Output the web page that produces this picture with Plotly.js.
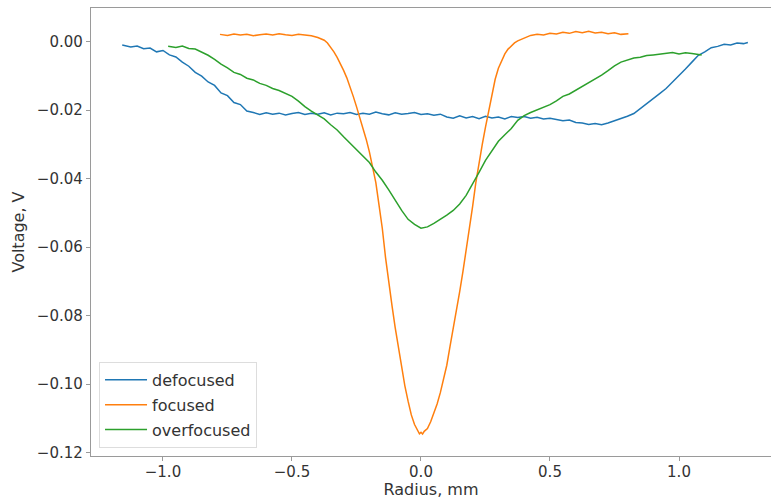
<!DOCTYPE html>
<html>
<head>
<meta charset="utf-8">
<script src="https://cdn.plot.ly/plotly-3.0.1.min.js"></script>
<style>html,body{margin:0;padding:0;background:#fff;}#chart{width:771px;height:499px;}</style>
</head>
<body>
<div id="chart"></div>
<script>
// ---- data ----
const seriesNames = ["defocused", "focused", "overfocused"];

const defocusedX = [-1.158,-1.125,-1.100,-1.075,-1.050,-1.025,-1.000,-0.975,-0.950,-0.925,-0.900,-0.875,-0.850,-0.825,-0.800,-0.775,-0.750,-0.725,-0.700,-0.675,-0.650,-0.625,-0.600,-0.575,-0.550,-0.525,-0.500,-0.475,-0.450,-0.425,-0.400,-0.375,-0.350,-0.325,-0.300,-0.275,-0.250,-0.225,-0.200,-0.175,-0.150,-0.125,-0.100,-0.075,-0.050,-0.025,0.000,0.025,0.050,0.075,0.100,0.125,0.150,0.175,0.200,0.225,0.250,0.275,0.300,0.325,0.350,0.375,0.400,0.425,0.450,0.475,0.500,0.525,0.550,0.575,0.600,0.625,0.650,0.675,0.700,0.725,0.750,0.775,0.800,0.825,0.850,0.875,0.900,0.925,0.950,0.975,1.000,1.025,1.050,1.075,1.100,1.125,1.150,1.175,1.200,1.225,1.250,1.267];
const defocusedY = [-0.0010,-0.0016,-0.0013,-0.0021,-0.0019,-0.0030,-0.0026,-0.0039,-0.0045,-0.0060,-0.0072,-0.0090,-0.0101,-0.0118,-0.0128,-0.0150,-0.0158,-0.0178,-0.0184,-0.0203,-0.0207,-0.0213,-0.0208,-0.0212,-0.0209,-0.0214,-0.0210,-0.0207,-0.0213,-0.0209,-0.0212,-0.0208,-0.0214,-0.0209,-0.0211,-0.0207,-0.0213,-0.0209,-0.0212,-0.0206,-0.0211,-0.0214,-0.0208,-0.0212,-0.0210,-0.0207,-0.0213,-0.0211,-0.0215,-0.0212,-0.0220,-0.0224,-0.0217,-0.0223,-0.0219,-0.0225,-0.0218,-0.0223,-0.0220,-0.0226,-0.0219,-0.0222,-0.0219,-0.0224,-0.0221,-0.0226,-0.0224,-0.0228,-0.0231,-0.0229,-0.0236,-0.0238,-0.0242,-0.0239,-0.0243,-0.0238,-0.0232,-0.0225,-0.0218,-0.0210,-0.0196,-0.0181,-0.0168,-0.0152,-0.0137,-0.0119,-0.0100,-0.0080,-0.0060,-0.0040,-0.0030,-0.0018,-0.0014,-0.0008,-0.0010,-0.0004,-0.0006,-0.0003];

const focusedX = [-0.779,-0.750,-0.725,-0.700,-0.675,-0.650,-0.625,-0.600,-0.575,-0.550,-0.525,-0.500,-0.475,-0.450,-0.425,-0.400,-0.3875,-0.375,-0.3625,-0.350,-0.3375,-0.325,-0.3125,-0.300,-0.2875,-0.275,-0.2625,-0.250,-0.2375,-0.225,-0.2125,-0.200,-0.1875,-0.175,-0.1625,-0.150,-0.1375,-0.125,-0.1125,-0.100,-0.0875,-0.075,-0.0625,-0.050,-0.0375,-0.025,-0.0125,-0.006,0.000,0.006,0.0125,0.025,0.0375,0.050,0.0625,0.075,0.0875,0.100,0.1125,0.125,0.1375,0.150,0.1625,0.175,0.1875,0.200,0.2125,0.225,0.2375,0.250,0.2625,0.275,0.2875,0.300,0.3125,0.325,0.3375,0.350,0.3625,0.375,0.3875,0.400,0.425,0.450,0.475,0.500,0.525,0.550,0.575,0.600,0.625,0.650,0.675,0.700,0.725,0.750,0.775,0.804];
const focusedY = [0.0021,0.0018,0.0022,0.0019,0.0021,0.0017,0.0020,0.0022,0.0019,0.0023,0.0020,0.0018,0.0021,0.0019,0.0017,0.0012,0.0008,0.0004,-0.0004,-0.0016,-0.0030,-0.0046,-0.0063,-0.0084,-0.0106,-0.0131,-0.0160,-0.0190,-0.0220,-0.0253,-0.0285,-0.0322,-0.0365,-0.0412,-0.0478,-0.0545,-0.0630,-0.0705,-0.0770,-0.0835,-0.0895,-0.0945,-0.1005,-0.1050,-0.1090,-0.1118,-0.1135,-0.1145,-0.1141,-0.1146,-0.1138,-0.1130,-0.1110,-0.1085,-0.1058,-0.1025,-0.0985,-0.0945,-0.0890,-0.0840,-0.0785,-0.0730,-0.0672,-0.0612,-0.0550,-0.0482,-0.0412,-0.0350,-0.0300,-0.0250,-0.0200,-0.0152,-0.0110,-0.0078,-0.0055,-0.0036,-0.0022,-0.0012,-0.0004,0.0002,0.0006,0.0010,0.0018,0.0021,0.0019,0.0024,0.0022,0.0027,0.0024,0.0029,0.0026,0.0030,0.0025,0.0027,0.0023,0.0026,0.0021,0.0023];

const overfocusedX = [-0.980,-0.950,-0.925,-0.900,-0.875,-0.850,-0.825,-0.800,-0.775,-0.750,-0.725,-0.700,-0.675,-0.650,-0.625,-0.600,-0.575,-0.550,-0.525,-0.500,-0.475,-0.450,-0.425,-0.400,-0.375,-0.350,-0.325,-0.300,-0.275,-0.250,-0.225,-0.200,-0.175,-0.150,-0.125,-0.100,-0.075,-0.050,-0.025,0.000,0.025,0.050,0.075,0.100,0.125,0.150,0.175,0.200,0.225,0.250,0.275,0.300,0.325,0.350,0.375,0.400,0.425,0.450,0.475,0.500,0.525,0.550,0.575,0.600,0.625,0.650,0.675,0.700,0.725,0.750,0.775,0.800,0.825,0.850,0.875,0.900,0.925,0.950,0.975,1.000,1.025,1.050,1.075,1.088];
const overfocusedY = [-0.0014,-0.0017,-0.0013,-0.0020,-0.0022,-0.0030,-0.0040,-0.0052,-0.0066,-0.0077,-0.0090,-0.0096,-0.0107,-0.0112,-0.0122,-0.0128,-0.0137,-0.0143,-0.0152,-0.0160,-0.0174,-0.0190,-0.0203,-0.0215,-0.0226,-0.0243,-0.0258,-0.0278,-0.0296,-0.0314,-0.0334,-0.0353,-0.0381,-0.0405,-0.0433,-0.0464,-0.0493,-0.0519,-0.0534,-0.0545,-0.0541,-0.0531,-0.0520,-0.0507,-0.0493,-0.0474,-0.0449,-0.0417,-0.0382,-0.0347,-0.0318,-0.0291,-0.0272,-0.0254,-0.0230,-0.0216,-0.0207,-0.0199,-0.0192,-0.0184,-0.0173,-0.0160,-0.0153,-0.0142,-0.0131,-0.0119,-0.0110,-0.0098,-0.0085,-0.0071,-0.0060,-0.0053,-0.0048,-0.0046,-0.0041,-0.0039,-0.0036,-0.0035,-0.0032,-0.0036,-0.0033,-0.0035,-0.0037,-0.0039];

const xTickVals = [-1.0, -0.5, 0.0, 0.5, 1.0];
const xTickText = ["\u22121.0", "\u22120.5", "0.0", "0.5", "1.0"];
const yTickVals = [0.00, -0.02, -0.04, -0.06, -0.08, -0.10, -0.12];
const yTickText = ["0.00", "\u22120.02", "\u22120.04", "\u22120.06", "\u22120.08", "\u22120.10", "\u22120.12"];

const xTitle = "Radius, mm";
const yTitle = "Voltage, V";

// ---- styling ----
const colors = ["#1f77b4", "#ff7f0e", "#2ca02c"];
const axisColor = "#9a9a9a";
const textColor = "#333333";
const fontFamily = "DejaVu Sans, sans-serif";

const xs = [defocusedX, focusedX, overfocusedX];
const ys = [defocusedY, focusedY, overfocusedY];

const traces = seriesNames.map((name, i) => ({
  type: "scatter",
  mode: "lines",
  name: name,
  x: xs[i],
  y: ys[i],
  line: {color: colors[i], width: 1.5},
  legendgroup: "g" + i
}));

const layout = {
  width: 771,
  height: 499,
  margin: {l: 91, r: 0, t: 8, b: 43},
  paper_bgcolor: "#ffffff",
  plot_bgcolor: "#ffffff",
  font: {family: fontFamily, size: 15, color: textColor},
  showlegend: true,
  legend: {
    x: 0.0118, y: 0.018, xanchor: "left", yanchor: "bottom",
    bgcolor: "rgba(255,255,255,0.8)",
    bordercolor: "#dddddd", borderwidth: 1,
    font: {family: fontFamily, size: 16, color: textColor},
    tracegroupgap: 1,
    itemwidth: 42,
    traceorder: "grouped"
  },
  xaxis: {
    range: [-1.279, 1.3566],
    tickmode: "array", tickvals: xTickVals, ticktext: xTickText,
    showgrid: false, zeroline: false,
    showline: true, linecolor: axisColor, linewidth: 1.2, mirror: true,
    ticks: "outside", ticklen: 4, tickwidth: 1, tickcolor: axisColor,
    ticklabelstandoff: -2,
    tickfont: {family: fontFamily, size: 15, color: textColor},
    title: {text: xTitle, font: {family: fontFamily, size: 16, color: textColor}, standoff: 5}
  },
  yaxis: {
    range: [-0.1210, 0.0098],
    tickmode: "array", tickvals: yTickVals, ticktext: yTickText,
    showgrid: false, zeroline: false,
    showline: true, linecolor: axisColor, linewidth: 1.2, mirror: false,
    ticks: "outside", ticklen: 4, tickwidth: 1, tickcolor: axisColor,
    tickfont: {family: fontFamily, size: 15, color: textColor},
    title: {text: yTitle, font: {family: fontFamily, size: 16, color: textColor}, standoff: 8}
  }
};

Plotly.newPlot("chart", traces, layout, {displayModeBar: false, staticPlot: true});
</script>
</body>
</html>
